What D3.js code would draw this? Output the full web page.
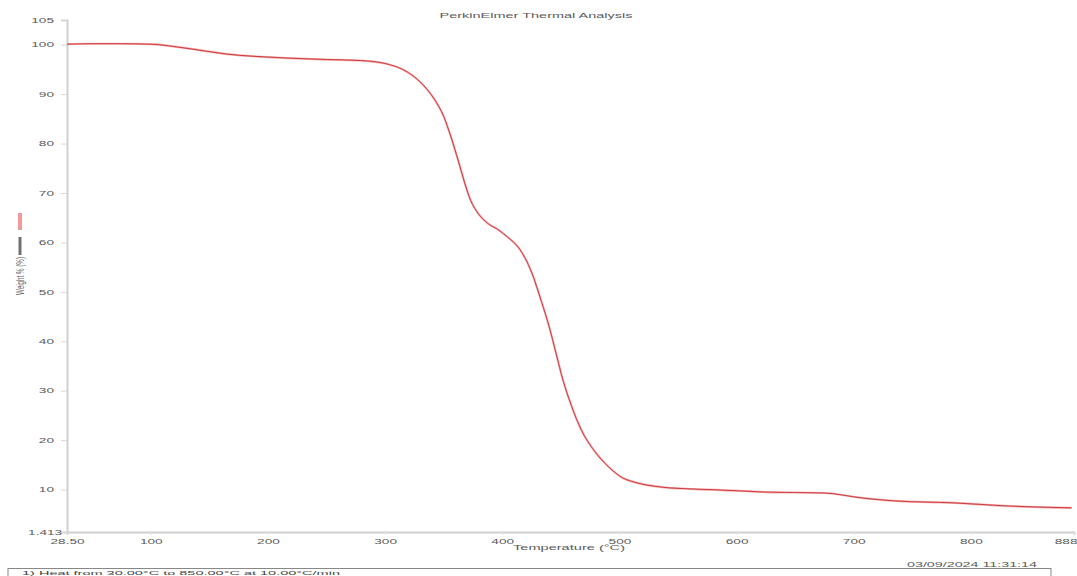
<!DOCTYPE html>
<html>
<head>
<meta charset="utf-8">
<script src="https://cdn.jsdelivr.net/npm/d3@7"></script>
<style>
  html, body { margin: 0; padding: 0; background: #fff; }
  svg { display: block; font-family: "Liberation Sans", Arial, sans-serif; }
</style>
</head>
<body>
<svg id="chart" width="1077" height="576"></svg>
<script>
// ---- data ----
const temperature = [28.5, 50, 75, 100, 130, 165, 208, 251, 279, 300, 315, 325, 335, 342, 350, 356, 362.5, 368, 373, 379.6, 388, 397, 405, 413.8, 425, 433.5, 440, 446, 452, 459, 467.6, 478.7, 490.7, 501.8, 516, 536, 564, 587, 624, 675, 707, 735, 786, 829, 886];
const weight = [100.1, 100.2, 100.2, 100.1, 99.3, 98.1, 97.4, 97.0, 96.8, 96.2, 95.0, 93.5, 91.2, 89.0, 85.5, 81.5, 76.5, 72.0, 68.5, 65.8, 63.8, 62.5, 61.0, 59.0, 54.0, 48.0, 43.0, 37.5, 32.0, 27.0, 22.0, 17.8, 14.6, 12.5, 11.3, 10.5, 10.1, 9.9, 9.5, 9.3, 8.3, 7.7, 7.3, 6.7, 6.3];
const xTickValues = [28.5, 100, 200, 300, 400, 500, 600, 700, 800, 888];
const xTickLabels = ["28.50", "100", "200", "300", "400", "500", "600", "700", "800", "888"];
const yTickValues = [105, 100, 90, 80, 70, 60, 50, 40, 30, 20, 10, 1.413];
const yTickLabels = ["105", "100", "90", "80", "70", "60", "50", "40", "30", "20", "10", "1.413"];
const titleText = "PerkinElmer Thermal Analysis";
const xLabelText = "Temperature (°C)";
const yLabelText = "Weight % (%)";
const stampText = "03/09/2024 11:31:14";
const methodText = "1) Heat from 30.00°C to 850.00°C at 10.00°C/min";

// ---- layout ----
const svg = d3.select("#chart");
const plotLeft = 67, plotRight = 1074, plotTop = 20, plotBottom = 532;
const x = d3.scaleLinear().domain([28.5, 888]).range([plotLeft, plotRight]);
const y = d3.scaleLinear().domain([1.413, 105]).range([plotBottom, plotTop]);
const textColor = "#5a5a5a";
const charW = ch => (ch === "." ? 3.5 : 7.6);
const widthOf = s => Array.from(s).reduce((a, c) => a + charW(c), 0);

svg.append("rect").attr("width", 1077).attr("height", 576).attr("fill", "#fff");

// title
svg.append("text").attr("x", 536).attr("y", 18).attr("text-anchor", "middle")
  .attr("font-size", 8).attr("fill", textColor)
  .attr("textLength", 193).attr("lengthAdjust", "spacingAndGlyphs").text(titleText);

// y axis
const yAxis = d3.axisLeft(y).tickValues(yTickValues).tickSize(6).tickPadding(7)
  .tickFormat((d, i) => yTickLabels[i]);
const gy = svg.append("g").attr("transform", `translate(${plotLeft},0)`).call(yAxis);
gy.select(".domain").attr("stroke", "#d0d0d0").attr("stroke-width", 2);
gy.selectAll(".tick line").attr("stroke", "#d8d8d8");
gy.selectAll(".tick text").attr("font-size", 7).attr("fill", textColor)
  .attr("font-family", "Liberation Sans, Arial, sans-serif")
  .each(function (d, i) {
    d3.select(this).attr("textLength", widthOf(yTickLabels[i])).attr("lengthAdjust", "spacingAndGlyphs");
  });
gy.selectAll(".tick").filter(d => d === 1.413).select("text").attr("x", -5);

// x axis
const xAxis = d3.axisBottom(x).tickValues(xTickValues).tickSize(3).tickPadding(4)
  .tickFormat((d, i) => xTickLabels[i]);
const gx = svg.append("g").attr("transform", `translate(0,${plotBottom})`).call(xAxis);
gx.select(".domain").attr("stroke", "#d0d0d0").attr("stroke-width", 2);
gx.selectAll(".tick line").attr("stroke", "#e0e0e0");
gx.selectAll(".tick text").attr("font-size", 7).attr("fill", textColor)
  .attr("font-family", "Liberation Sans, Arial, sans-serif")
  .each(function (d, i) {
    d3.select(this).attr("textLength", widthOf(xTickLabels[i])).attr("lengthAdjust", "spacingAndGlyphs");
  });
gx.selectAll(".tick").filter(d => d === 888).select("text").attr("text-anchor", "end").attr("x", 3);

// axis labels
svg.append("text").attr("x", 569).attr("y", 550).attr("text-anchor", "middle")
  .attr("font-size", 7).attr("fill", textColor)
  .attr("textLength", 112).attr("lengthAdjust", "spacingAndGlyphs").text(xLabelText);

svg.append("rect").attr("x", 18).attr("y", 213).attr("width", 4).attr("height", 17).attr("fill", "#f29a9a");
svg.append("rect").attr("x", 18.5).attr("y", 237).attr("width", 3).attr("height", 18).attr("fill", "#707070");
svg.append("text").attr("transform", "translate(24,276) rotate(-90)").attr("text-anchor", "middle")
  .attr("font-size", 10).attr("fill", textColor)
  .attr("textLength", 38).attr("lengthAdjust", "spacingAndGlyphs").text(yLabelText);

// curve
const line = d3.line().x(d => x(d[0])).y(d => y(d[1])).curve(d3.curveMonotoneX);
const pts = temperature.map((t, i) => [t, weight[i]]);
svg.append("path").datum(pts).attr("d", line).attr("fill", "none")
  .attr("stroke", "#f5b0b0").attr("stroke-width", 2.2);
svg.append("path").datum(pts).attr("d", line).attr("fill", "none")
  .attr("stroke", "#cc3a40").attr("stroke-width", 1);

// timestamp and method box
svg.append("text").attr("x", 1037).attr("y", 567).attr("text-anchor", "end")
  .attr("font-size", 7).attr("fill", textColor)
  .attr("textLength", 130).attr("lengthAdjust", "spacingAndGlyphs").text(stampText);
svg.append("rect").attr("x", 8).attr("y", 568.5).attr("width", 1043).attr("height", 20)
  .attr("fill", "none").attr("stroke", "#888").attr("stroke-width", 1);
svg.append("text").attr("x", 22).attr("y", 575).attr("font-size", 6).attr("fill", "#444")
  .attr("textLength", 318).attr("lengthAdjust", "spacingAndGlyphs").text(methodText);
</script>
</body>
</html>
